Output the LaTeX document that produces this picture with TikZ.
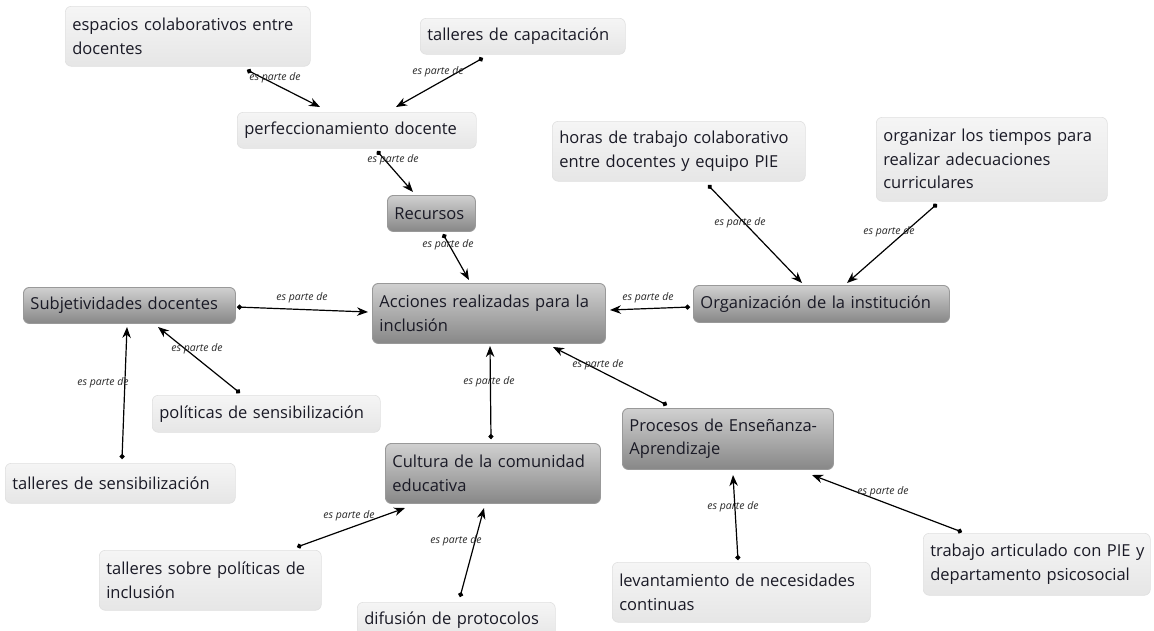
\documentclass[tikz,border=0pt]{standalone}
\usepackage{fontspec}
\setmainfont{Open Sans}
\usetikzlibrary{arrows.meta,calc}
\definecolor{txt}{HTML}{1A1A26}
\definecolor{litetop}{HTML}{F5F5F5}
\definecolor{litebot}{HTML}{E6E6E6}
\definecolor{liteline}{HTML}{E0E0E0}
\definecolor{darktop}{HTML}{D0D0D0}
\definecolor{darkbot}{HTML}{878787}
\definecolor{darkline}{HTML}{999999}
\tikzset{
  boxbase/.style={anchor=north west, rounded corners=6pt, inner xsep=7pt, inner ysep=2pt,
    align=left, text=txt, font=\fontsize{16.5}{23.5}\selectfont},
  lite/.style={boxbase, shade, top color=litetop, bottom color=litebot, draw=liteline, line width=0.6pt},
  dark/.style={boxbase, shade, top color=darktop, bottom color=darkbot, draw=darkline, line width=0.9pt},
  conn/.style={draw=black, line width=1.2pt, {Circle[length=5pt]}-{Stealth[length=11pt,width=8.5pt]}},
  lbl/.style={font=\fontsize{10.5}{11}\selectfont\itshape, text=black!85, inner sep=0pt}
}
\begin{document}
\begin{tikzpicture}[x=1pt,y=-1pt]
\useasboundingbox (0,0) rectangle (1154,630);
% light nodes
\node[lite, minimum width=245pt, text width=231pt, minimum height=60pt] (esp) at (65,6) {espacios colaborativos entre\\docentes};
\node[lite, minimum width=205pt, text width=191pt, minimum height=36pt] (cap) at (420,18) {talleres de capacitación};
\node[lite, minimum width=239pt, text width=225pt, minimum height=36pt] (perf) at (237,112) {perfeccionamiento docente};
\node[lite, minimum width=253pt, text width=239pt, minimum height=60pt] (horas) at (552,121) {horas de trabajo colaborativo\\entre docentes y equipo PIE};
\node[lite, minimum width=231pt, text width=217pt, minimum height=84pt] (orgt) at (876,117) {organizar los tiempos para\\realizar adecuaciones\\curriculares};
\node[lite, minimum width=228pt, text width=214pt, minimum height=37pt] (pol) at (152,395) {políticas de sensibilización};
\node[lite, minimum width=230pt, text width=216pt, minimum height=40pt] (tsens) at (5,463) {talleres de sensibilización};
\node[lite, minimum width=222pt, text width=208pt, minimum height=60pt] (tsob) at (99,550) {talleres sobre políticas de\\inclusión};
\node[lite, minimum width=198pt, text width=184pt, minimum height=36pt] (dif) at (357,602) {difusión de protocolos};
\node[lite, minimum width=258pt, text width=244pt, minimum height=60pt] (lev) at (612,562) {levantamiento de necesidades\\continuas};
\node[lite, minimum width=227pt, text width=213pt, minimum height=62pt] (trab) at (923,533) {\mbox{trabajo articulado con PIE y}\\departamento psicosocial};
% dark nodes
\node[dark, minimum width=88pt, text width=74pt, minimum height=36pt] (rec) at (387,195) {Recursos};
\node[dark, minimum width=212pt, text width=198pt, minimum height=36pt] (subj) at (23,287) {Subjetividades docentes};
\node[dark, minimum width=233pt, text width=219pt, minimum height=60pt] (acc) at (372,283) {Acciones realizadas para la\\inclusión};
\node[dark, minimum width=256pt, text width=242pt, minimum height=37pt] (orgi) at (693,285) {Organización de la institución};
\node[dark, minimum width=215pt, text width=201pt, minimum height=60pt] (cult) at (385,443) {Cultura de la comunidad\\educativa};
\node[dark, minimum width=211pt, text width=197pt, minimum height=61pt] (proc) at (622,408) {Procesos de Enseñanza-\\Aprendizaje};
% connectors
\draw[conn] ([shift={(182,64)}]esp.north west) -- ([shift={(83,-5)}]perf.north west) node[lbl] at (275,78) {es parte de};
\draw[conn] ([shift={(63,40)}]cap.north west) -- ([shift={(159,-5)}]perf.north west) node[lbl] at (438,72) {es parte de};
\draw[conn] ([shift={(140,39)}]perf.north west) -- ([shift={(26,-3)}]rec.north west) node[lbl] at (393,160) {es parte de};
\draw[conn] ([shift={(56,39)}]rec.north west) -- ([shift={(97,-3)}]acc.north west) node[lbl] at (448,245) {es parte de};
\draw[conn] ([shift={(214,20)}]subj.north west) -- ([shift={(-4,29)}]acc.north west) node[lbl] at (302,298) {es parte de};
\draw[conn] ([shift={(-3,22)}]orgi.north west) -- ([shift={(238,27)}]acc.north west) node[lbl] at (648,298) {es parte de};
\draw[conn] ([shift={(106,-4)}]cult.north west) -- ([shift={(118,63)}]acc.north west) node[lbl] at (489,382) {es parte de};
\draw[conn] ([shift={(45,-3)}]proc.north west) -- ([shift={(181,64)}]acc.north west) node[lbl] at (598,365) {es parte de};
\draw[conn] ([shift={(156,64)}]horas.north west) -- ([shift={(109,-2)}]orgi.north west) node[lbl] at (740,223) {es parte de};
\draw[conn] ([shift={(61,87)}]orgt.north west) -- ([shift={(154,-2)}]orgi.north west) node[lbl] at (889,232) {es parte de};
\draw[conn] ([shift={(88,-2)}]pol.north west) -- ([shift={(135,40)}]subj.north west) node[lbl] at (197,349) {es parte de};
\draw[conn] ([shift={(117,-4)}]tsens.north west) -- ([shift={(104,40)}]subj.north west) node[lbl] at (103,383) {es parte de};
\draw[conn] ([shift={(198,-3)}]tsob.north west) -- ([shift={(20,65)}]cult.north west) node[lbl] at (349,516) {es parte de};
\draw[conn] ([shift={(103,-5)}]dif.north west) -- ([shift={(99,65)}]cult.north west) node[lbl] at (456,541) {es parte de};
\draw[conn] ([shift={(126,-2)}]lev.north west) -- ([shift={(111,67)}]proc.north west) node[lbl] at (733,507) {es parte de};
\draw[conn] ([shift={(39,-1)}]trab.north west) -- ([shift={(190,67)}]proc.north west) node[lbl] at (883,492) {es parte de};
\end{tikzpicture}
\end{document}
